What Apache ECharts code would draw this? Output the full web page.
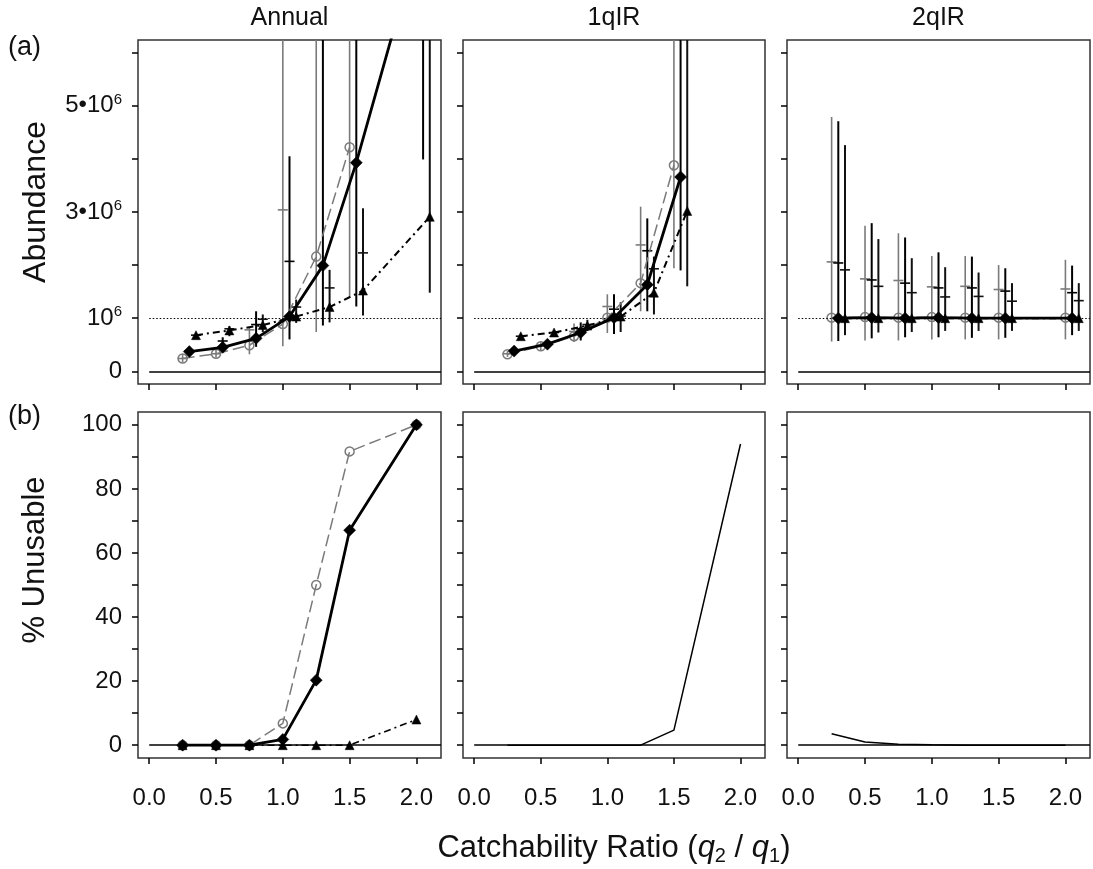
<!DOCTYPE html>
<html><head><meta charset="utf-8">
<script src="https://cdn.jsdelivr.net/npm/echarts@6/dist/echarts.min.js"></script>
<style>html,body{margin:0;padding:0;background:#fff}#c{width:1093px;height:869px}</style>
</head><body><div id="c"></div>
<script>
// ---------------- DATA ----------------
const q = [0.25, 0.5, 0.75, 1.0, 1.25, 1.5, 2.0];      // nominal catchability ratios
const columns = ['Annual', '1qIR', '2qIR'];
const xTicks = [0, 0.5, 1, 1.5, 2];
const abTicks = [0, 1, 2, 3, 4, 5, 6];                  // abundance ticks (millions)
const abLabelTicks = [0, 1, 3, 5];
const unTicks = [0, 10, 20, 30, 40, 50, 60, 70, 80, 90, 100];
const unLabelTicks = [0, 20, 40, 60, 80, 100];

// Abundance, millions (panel a)
const annualCircle   = [0.24, 0.33, 0.49, 0.89, 2.16, 4.22, null];
const annualDiamond  = [0.37, 0.45, 0.62, 1.03, 1.99, 3.93, 8.4];
const annualTriangle = [0.68, 0.77, 0.87, 1.03, 1.21, 1.52, 2.91];
const q1Circle   = [0.32, 0.47, 0.66, 1.01, 1.66, 3.88, null];
const q1Diamond  = [0.38, 0.51, 0.73, 1.01, 1.63, 3.66, null];
const q1Triangle = [0.66, 0.73, 0.86, 1.03, 1.48, 3.02, null];
const q2Circle   = [1.01, 1.02, 1.01, 1.02, 1.01, 1.01, 1.01];
const q2Diamond  = [1.00, 1.01, 1.00, 1.01, 1.00, 1.00, 1.00];
const q2Triangle = [1.00, 1.00, 1.00, 1.00, 1.00, 1.00, 1.00];

// Interval low / high / cross-mark, millions (9 = beyond the top of the panel)
const annualCircleLo   = [0.17, 0.26, 0.32, 0.47, 0.74, 1.41, null];
const annualCircleHi   = [0.32, 0.42, 0.82, 9, 9, 9, null];
const annualCircleMid  = [0.24, 0.33, 0.78, 3.04, 9, 9, null];
const annualDiamondLo  = [0.30, 0.36, 0.46, 0.60, 0.86, 1.22, 3.99];
const annualDiamondHi  = [0.45, 0.64, 1.13, 4.05, 9, 9, 9];
const annualDiamondMid = [0.38, 0.57, 0.88, 2.07, 9, 9, 9];
const annualTriangleLo  = [0.65, 0.66, 0.74, 0.91, 0.92, 1.05, 1.48];
const annualTriangleHi  = [0.71, 0.85, 1.07, 1.35, 1.91, 3.07, 9];
const annualTriangleMid = [0.68, 0.80, 0.98, 1.21, 1.57, 2.23, 9];

const q1CircleLo   = [0.27, 0.40, 0.55, 0.72, 1.13, 1.94, null];
const q1CircleHi   = [0.38, 0.56, 0.90, 1.45, 3.10, 9, null];
const q1CircleMid  = [0.33, 0.49, 0.75, 1.22, 2.38, 9, null];
const q1DiamondLo  = [0.33, 0.45, 0.58, 0.70, 1.13, 1.90, null];
const q1DiamondHi  = [0.44, 0.58, 0.92, 1.45, 2.88, 9, null];
const q1DiamondMid = [0.39, 0.52, 0.80, 1.17, 2.27, 9, null];
const q1TriangleLo  = [0.63, 0.70, 0.78, 0.74, 1.07, 1.60, null];
const q1TriangleHi  = [0.69, 0.77, 0.97, 1.30, 2.16, 9, null];
const q1TriangleMid = [0.66, 0.73, 0.88, 1.04, 1.93, 9, null];

const q2CircleLo   = [0.56, 0.58, 0.58, 0.60, 0.60, 0.60, 0.60];
const q2CircleHi   = [4.79, 2.74, 2.60, 2.17, 2.17, 2.00, 2.10];
const q2CircleMid  = [2.06, 1.74, 1.71, 1.59, 1.60, 1.54, 1.55];
const q2DiamondLo  = [0.57, 0.62, 0.64, 0.64, 0.63, 0.63, 0.68];
const q2DiamondHi  = [4.71, 2.79, 2.52, 2.24, 2.16, 1.94, 1.99];
const q2DiamondMid = [2.04, 1.72, 1.66, 1.57, 1.57, 1.51, 1.48];
const q2TriangleLo  = [0.68, 0.73, 0.74, 0.76, 0.76, 0.76, 0.76];
const q2TriangleHi  = [4.26, 2.49, 2.13, 1.96, 1.86, 1.66, 1.66];
const q2TriangleMid = [1.91, 1.60, 1.48, 1.40, 1.41, 1.32, 1.33];

// % Unusable (panel b)
const annualUnCircle   = [0, 0, 0, 6.8, 50, 91.7, 100];
const annualUnDiamond  = [0, 0, 0, 1.8, 20.3, 67.1, 100];
const annualUnTriangle = [0, 0, 0, 0, 0, 0, 8];
const q1Un = [0, 0, 0, 0, 0, 4.7, 94];
const q2Un = [3.6, 1.0, 0.3, 0.1, 0, 0, 0];

const trueAbundance = 1;     // dotted reference (millions)
// ---------------- LAYOUT / STYLE ----------------
const dodge = [0, 0.05, 0.1];
const FONT = '"Liberation Sans", Arial, sans-serif';
const colLeft = [138, 463, 787], colW = [303, 302, 303];
const rowTop = [40, 412], rowH = [344, 346];
const XMIN = -0.084, XMAX = 2.184;
const GRAY = '#7a7a7a';

const styles = [
  {symbol: 'circle', size: 9, item: {color: 'rgba(0,0,0,0)', borderColor: GRAY, borderWidth: 1.5},
   line: {color: GRAY, width: 1.5, type: [12, 5]}, bar: GRAY, barW: 1.6},
  {symbol: 'diamond', size: 12, item: {color: '#000', borderColor: '#000', borderWidth: 0.5},
   line: {color: '#000', width: 2.8, type: 'solid'}, bar: '#000', barW: 2},
  {symbol: 'triangle', size: 9, item: {color: '#000', borderColor: '#000', borderWidth: 0.5},
   line: {color: '#000', width: 2, type: [7, 4, 2, 4]}, bar: '#111', barW: 2}
];

const abund = [[annualCircle, annualDiamond, annualTriangle], [q1Circle, q1Diamond, q1Triangle], [q2Circle, q2Diamond, q2Triangle]];
const intervals = [
  [[annualCircleLo, annualCircleHi, annualCircleMid], [annualDiamondLo, annualDiamondHi, annualDiamondMid], [annualTriangleLo, annualTriangleHi, annualTriangleMid]],
  [[q1CircleLo, q1CircleHi, q1CircleMid], [q1DiamondLo, q1DiamondHi, q1DiamondMid], [q1TriangleLo, q1TriangleHi, q1TriangleMid]],
  [[q2CircleLo, q2CircleHi, q2CircleMid], [q2DiamondLo, q2DiamondHi, q2DiamondMid], [q2TriangleLo, q2TriangleHi, q2TriangleMid]]
];

const grids = [], xAxes = [], yAxes = [], series = [];

function abFmt(v) {
  if (v === 0) return '{n|0}';
  if (v === 1) return '{n|10}{sup|6}';
  return '{n|' + v + '•10}{sup|6}';
}

for (let r = 0; r < 2; r++) {
  for (let c = 0; c < 3; c++) {
    const gi = r * 3 + c;
    grids.push({left: colLeft[c], top: rowTop[r], width: colW[c], height: rowH[r],
      show: true, borderColor: '#333', borderWidth: 1.5, backgroundColor: '#fff'});
    xAxes.push({type: 'value', gridIndex: gi, min: XMIN, max: XMAX, position: 'bottom',
      axisLine: {show: false, onZero: false}, splitLine: {show: false},
      axisTick: {show: true, inside: false, length: 6, customValues: xTicks, lineStyle: {color: '#000', width: 1.5}},
      axisLabel: {show: r === 1, customValues: xTicks, margin: 28, fontSize: 24, fontFamily: FONT, color: '#111',
        formatter: v => v.toFixed(1)}});
    const isTop = r === 0;
    yAxes.push({type: 'value', gridIndex: gi, position: 'left',
      min: isTop ? -0.24 : -4, max: isTop ? 6.24 : 104,
      axisLine: {show: false, onZero: false}, splitLine: {show: false},
      axisTick: {show: true, inside: false, length: 6, customValues: isTop ? abTicks : unTicks, lineStyle: {color: '#000', width: 1.5}},
      axisLabel: {show: c === 0, customValues: isTop ? abLabelTicks : unLabelTicks, margin: 16,
        fontSize: 24, fontFamily: FONT, color: '#111',
        formatter: isTop ? abFmt : (v => String(v)),
        rich: {n: {fontSize: 24, fontFamily: FONT, color: '#111'},
               sup: {fontSize: 15, fontFamily: FONT, color: '#111', padding: [0, 0, 12, 0]}}}});
  }
}

// Top row: abundance
for (let c = 0; c < 3; c++) {
  const gi = c;
  // reference lines
  series.push({type: 'line', xAxisIndex: gi, yAxisIndex: gi, data: [], silent: true,
    markLine: {silent: true, symbol: 'none', label: {show: false}, animation: false,
      data: [
        [{coord: [0, 0], lineStyle: {color: '#000', width: 1.5, type: 'solid'}}, {coord: [XMAX, 0]}],
        [{coord: [0, trueAbundance], lineStyle: {color: '#000', width: 1.2, type: [1.5, 2]}}, {coord: [XMAX, trueAbundance]}]
      ]}});
  for (let s = 0; s < 3; s++) {
    const [lo, hi, mid] = intervals[c][s];
    const st = styles[s];
    const barData = [];
    q.forEach((x, i) => { if (lo[i] != null) barData.push([x + dodge[s], lo[i], hi[i], mid[i]]); });
    series.push({type: 'custom', xAxisIndex: gi, yAxisIndex: gi, z: 2, silent: true, data: barData,
      encode: {x: 0, y: [1, 2]},
      renderItem: function (params, api) {
        const x = api.value(0), l = api.value(1), h = api.value(2), m = api.value(3);
        const cs = params.coordSys;
        const top = cs.y, bottom = cs.y + cs.height;
        const pl = api.coord([x, l]), ph = api.coord([x, h]), pm = api.coord([x, m]);
        const y1 = Math.max(top, Math.min(bottom, ph[1]));
        const y2 = Math.max(top, Math.min(bottom, pl[1]));
        const ch = [{type: 'line', shape: {x1: pl[0], y1: y1, x2: pl[0], y2: y2},
          style: {stroke: st.bar, lineWidth: st.barW}}];
        if (pm[1] >= top && pm[1] <= bottom) {
          ch.push({type: 'line', shape: {x1: pm[0] - 5, y1: pm[1], x2: pm[0] + 5, y2: pm[1]},
            style: {stroke: st.bar, lineWidth: 1.6}});
        }
        return {type: 'group', children: ch};
      }});
  }
  for (let s = 0; s < 3; s++) {
    const st = styles[s];
    const vals = abund[c][s];
    const d = [];
    q.forEach((x, i) => { if (vals[i] != null) d.push([x + dodge[s], vals[i]]); });
    series.push({type: 'line', xAxisIndex: gi, yAxisIndex: gi, z: 3 + s, data: d, clip: true,
      symbol: st.symbol, symbolSize: st.size, showAllSymbol: true,
      itemStyle: st.item, lineStyle: st.line, silent: true});
  }
}

// Bottom row: % unusable
const unAnnual = [annualUnCircle, annualUnDiamond, annualUnTriangle];
for (let c = 0; c < 3; c++) {
  const gi = 3 + c;
  series.push({type: 'line', xAxisIndex: gi, yAxisIndex: gi, data: [], silent: true,
    markLine: {silent: true, symbol: 'none', label: {show: false}, animation: false,
      data: [[{coord: [0, 0], lineStyle: {color: '#000', width: 1.5, type: 'solid'}}, {coord: [XMAX, 0]}]]}});
}
for (let s = 0; s < 3; s++) {
  const st = styles[s];
  const d = q.map((x, i) => [x, unAnnual[s][i]]);
  const lineSt = Object.assign({}, st.line, s === 2 ? {width: 1.6} : {});
  series.push({type: 'line', xAxisIndex: 3, yAxisIndex: 3, z: 3 + s, data: d,
    symbol: st.symbol, symbolSize: st.size, showAllSymbol: true,
    itemStyle: st.item, lineStyle: lineSt, silent: true});
}
series.push({type: 'line', xAxisIndex: 4, yAxisIndex: 4, z: 3, data: q.map((x, i) => [x, q1Un[i]]),
  symbol: 'none', lineStyle: {color: '#000', width: 1.5}, silent: true});
series.push({type: 'line', xAxisIndex: 5, yAxisIndex: 5, z: 3, data: q.map((x, i) => [x, q2Un[i]]),
  symbol: 'none', lineStyle: {color: '#000', width: 1.5}, silent: true});

// Text
const graphic = [];
columns.forEach((t, c) => {
  graphic.push({type: 'text', x: colLeft[c] + colW[c] / 2, y: 18,
    style: {text: t, font: '25px ' + FONT, fill: '#111', align: 'center', verticalAlign: 'middle'}});
});
graphic.push({type: 'text', x: 8, y: 48, style: {text: '(a)', font: '27px ' + FONT, fill: '#111', align: 'left', verticalAlign: 'middle'}});
graphic.push({type: 'text', x: 8, y: 417, style: {text: '(b)', font: '27px ' + FONT, fill: '#111', align: 'left', verticalAlign: 'middle'}});
graphic.push({type: 'text', x: 36, y: 202, rotation: Math.PI / 2,
  style: {text: 'Abundance', font: '32px ' + FONT, fill: '#111', align: 'center', verticalAlign: 'middle'}});
graphic.push({type: 'text', x: 35, y: 560, rotation: Math.PI / 2,
  style: {text: '% Unusable', font: '31px ' + FONT, fill: '#111', align: 'center', verticalAlign: 'middle'}});
graphic.push({type: 'text', x: 614, y: 848,
  style: {text: '{n|Catchability Ratio (}{i|q}{s|2}{n| / }{i|q}{s|1}{n|)}', align: 'center', verticalAlign: 'middle',
    rich: {n: {font: '31px ' + FONT, fill: '#111'},
           i: {font: 'italic 31px ' + FONT, fill: '#111'},
           s: {font: '20px ' + FONT, fill: '#111', padding: [16, 0, 0, 0]}}}});

const chart = echarts.init(document.getElementById('c'), null, {renderer: 'canvas'});
chart.setOption({animation: false, backgroundColor: '#fff',
  grid: grids, xAxis: xAxes, yAxis: yAxes, series: series, graphic: graphic});
</script></body></html>
